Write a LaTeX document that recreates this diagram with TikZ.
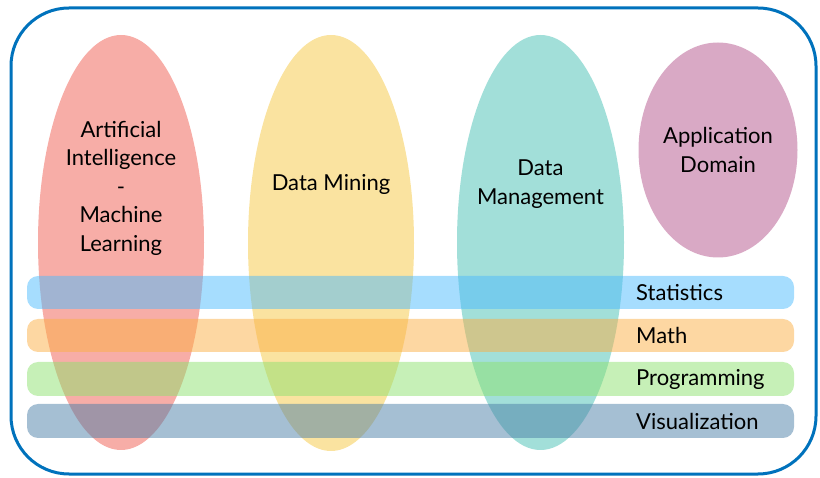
\documentclass[tikz,border=0pt]{standalone}
\usepackage{fontspec}
\setmainfont{Lato}
\definecolor{frameblue}{RGB}{0,114,188}
\definecolor{aicol}{RGB}{247,173,167}
\definecolor{dmcol}{RGB}{250,227,160}
\definecolor{mgcol}{RGB}{162,223,217}
\definecolor{adcol}{RGB}{217,169,197}
\definecolor{stcol}{RGB}{77,187,253}
\definecolor{macol}{RGB}{251,175,69}
\definecolor{prcol}{RGB}{141,225,111}
\definecolor{vicol}{RGB}{75,127,167}
\begin{document}
\begin{tikzpicture}[x=1pt,y=-1pt,
  lbl/.style={font=\fontsize{22}{28.5}\selectfont, align=center, text=black, inner sep=0pt},
  barlbl/.style={font=\fontsize{22}{24}\selectfont, anchor=west, text=black, inner sep=0pt},
  bar/.style={fill opacity=0.5, draw=none, rounded corners=11pt}]
\useasboundingbox (0,0) rectangle (820,478);
% frame
\draw[frameblue, line width=3pt, rounded corners=58pt] (11,8) rectangle (816,474);
% ellipses
\fill[aicol] (121,242.5) ellipse [x radius=83, y radius=207.5];
\fill[dmcol] (331,243) ellipse [x radius=83, y radius=208];
\fill[mgcol] (540.5,242.5) ellipse [x radius=83.5, y radius=207.5];
\fill[adcol] (718,150) ellipse [x radius=79.5, y radius=107.5];
% bars
\fill[bar, stcol] (27,276) rectangle (794,309);
\fill[bar, macol] (27,319) rectangle (794,352);
\fill[bar, prcol] (27,362) rectangle (794,396);
\fill[bar, vicol] (27,404) rectangle (794,438);
% texts
\node[lbl] (ai) at (121,188) {Artificial\\Intelligence\\-\\Machine\\Learning};
\node[lbl] (dmin) at (331,184) {Data Mining};
\node[lbl] (dmg) at (540.5,184) {Data\\Management};
\node[lbl] (app) at (718,150) {Application\\Domain};
\node[barlbl] (st) at (636,293) {Statistics};
\node[barlbl] (ma) at (636,335) {Math};
\node[barlbl] (pr) at (636,379) {Programming};
\node[barlbl] (vi) at (636,421) {Visualization};
\end{tikzpicture}
\end{document}
